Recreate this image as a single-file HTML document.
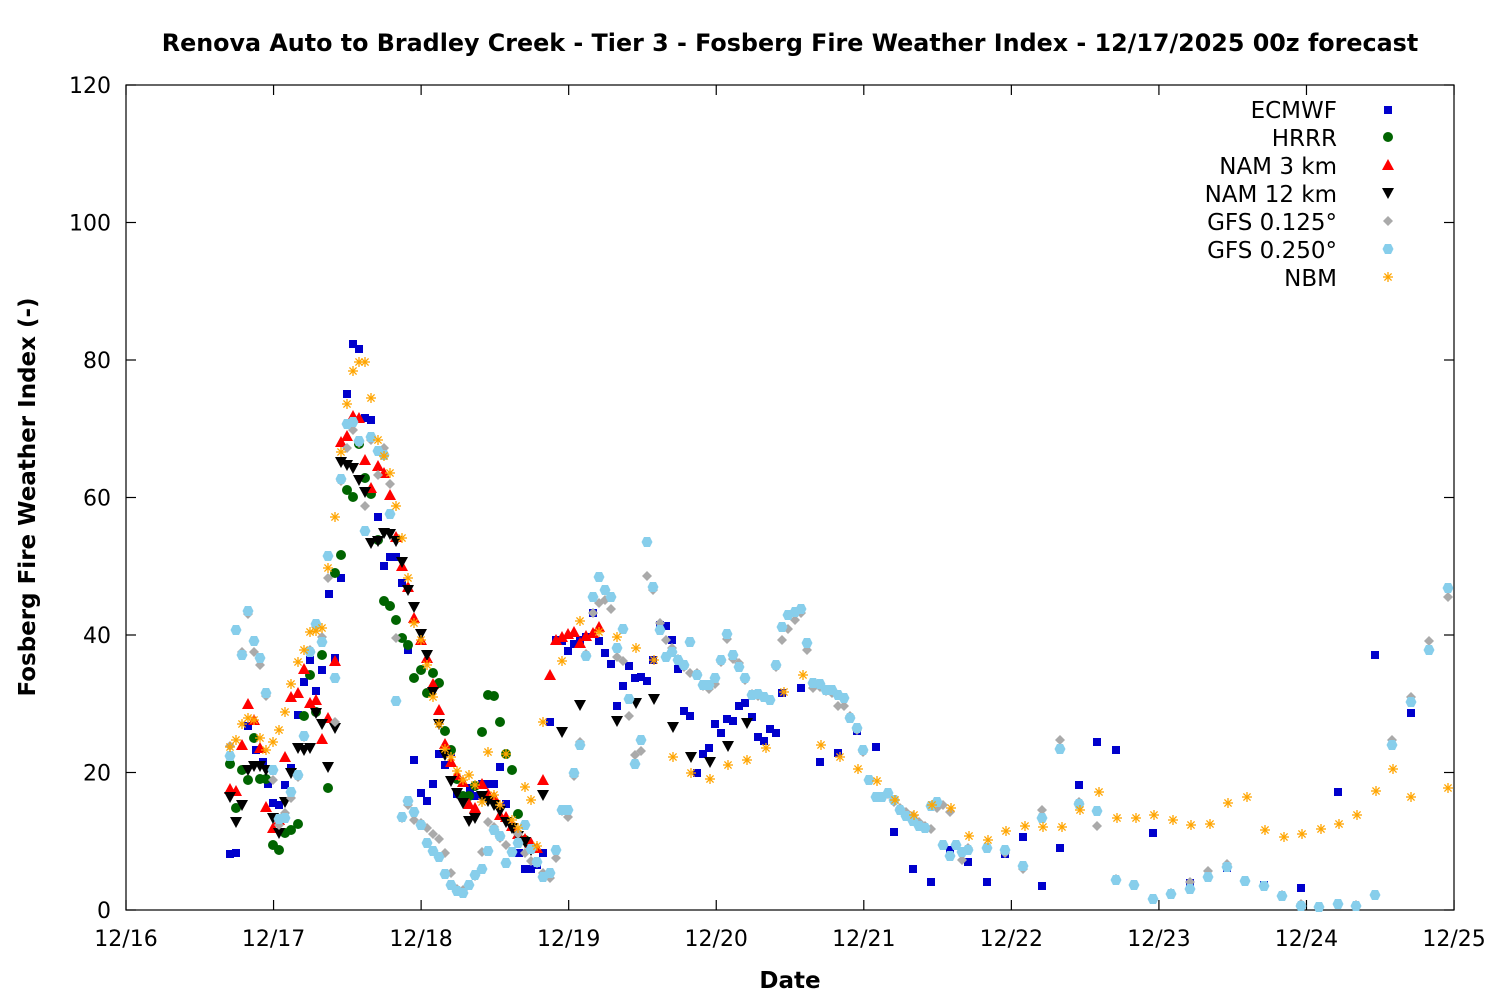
<!DOCTYPE html>
<html><head><meta charset="utf-8">
<style>
html,body{margin:0;padding:0;background:#fff;}
svg text{font-family:"DejaVu Sans","Liberation Sans",sans-serif;fill:#000;}
</style></head>
<body>
<svg id="c" width="1500" height="1000" xmlns="http://www.w3.org/2000/svg">
<rect width="1500" height="1000" fill="#fff"/>
<text x="790" y="51" font-size="23.8" font-weight="bold" text-anchor="middle">Renova Auto to Bradley Creek - Tier 3 - Fosberg Fire Weather Index - 12/17/2025 00z forecast</text>
<g id="axes" stroke="#000" stroke-width="1.2" fill="none">
<rect x="126" y="85" width="1328" height="825"/>
</g>
<g id="lab" font-size="22"></g>
<text transform="translate(35,497) rotate(-90)" font-size="23" font-weight="bold" text-anchor="middle">Fosberg Fire Weather Index (-)</text>
<text x="790" y="988" font-size="23" font-weight="bold" text-anchor="middle">Date</text>
<g font-size="23" text-anchor="end">
<text x="1337" y="118">ECMWF</text>
<text x="1337" y="146">HRRR</text>
<text x="1337" y="174">NAM 3 km</text>
<text x="1337" y="202">NAM 12 km</text>
<text x="1337" y="230">GFS 0.125°</text>
<text x="1337" y="258">GFS 0.250°</text>
<text x="1337" y="286">NBM</text>
</g>
<g id="pts"></g>
</svg>
<script>
var NS="http://www.w3.org/2000/svg";
function el(t,a,p){var e=document.createElementNS(NS,t);for(var k in a)e.setAttribute(k,a[k]);(p||document.getElementById('pts')).appendChild(e);return e;}
var ax=document.getElementById('axes'),lab=document.getElementById('lab');
for(var i=0;i<=6;i++){var y=910-i*137.5;
 el('line',{x1:126,x2:136,y1:y,y2:y},ax);el('line',{x1:1444,x2:1454,y1:y,y2:y},ax);
 var t=el('text',{x:111,y:y+8,'text-anchor':'end'},lab);t.textContent=i*20;}
var dl=['12/16','12/17','12/18','12/19','12/20','12/21','12/22','12/23','12/24','12/25'];
for(var i=0;i<=9;i++){var x=126+i*147.56;
 el('line',{x1:x,x2:x,y1:910,y2:900},ax);el('line',{x1:x,x2:x,y1:85,y2:95},ax);
 var t=el('text',{x:x,y:946,'text-anchor':'middle'},lab);t.textContent=dl[i];}
function P(s){var a=s.trim().split(/;\s*/),r=[];a.forEach(function(p){var q=p.split(',');r.push([+q[0],+q[1]]);});return r;}
function sq(x,y){el('rect',{x:x-4,y:y-4,width:8,height:8,fill:'#0000cc'});}
function ci(x,y){el('circle',{cx:x,cy:y,r:5,fill:'#006400'});}
function tu(x,y){el('polygon',{points:(x)+','+(y-6)+' '+(x-6)+','+(y+5)+' '+(x+6)+','+(y+5),fill:'#ff0000'});}
function td(x,y){el('polygon',{points:(x)+','+(y+6)+' '+(x-6)+','+(y-5)+' '+(x+6)+','+(y-5),fill:'#000'});}
function di(x,y){el('polygon',{points:x+','+(y-5)+' '+(x+5)+','+y+' '+x+','+(y+5)+' '+(x-5)+','+y,fill:'#aaaaaa'});}
function hx(x,y){el('polygon',{points:(x-3)+','+(y-5)+' '+(x+3)+','+(y-5)+' '+(x+5.5)+','+y+' '+(x+3)+','+(y+5)+' '+(x-3)+','+(y+5)+' '+(x-5.5)+','+y,fill:'#87ceeb'});}
function st(x,y){var g=el('g',{stroke:'#ffa500','stroke-width':1.3});
 el('line',{x1:x-5,y1:y,x2:x+5,y2:y},g);el('line',{x1:x,y1:y-5,x2:x,y2:y+5},g);
 el('line',{x1:x-3.6,y1:y-3.6,x2:x+3.6,y2:y+3.6},g);el('line',{x1:x-3.6,y1:y+3.6,x2:x+3.6,y2:y-3.6},g);}
var E=P("230,854;236,853;248,726;256,750;263,762;268,784;273,803;279,805;285,785;291,768;298,715;304,682;310,660;316,691;322,670;329,594;335,658;341,578;347,394;353,344;359,349;365,418;371,420;378,517;384,566;390,557;396,557;402,583;408,650;414,760;421,793;427,801;433,784;439,754;445,765;451,752;457,794;463,796;470,788;476,796;482,784;488,784;494,784;500,767;506,804;512,827;519,853;525,869;531,869;537,865;543,853;550,722;556,640;562,641;568,651;574,644;580,640;586,637;593,613;599,641;605,653;611,664;617,706;623,686;629,666;635,678;641,677;647,681;653,660;660,625;666,626;672,640;678,669;684,711;690,716;697,773;703,754;709,748;715,724;721,733;727,719;733,721;739,706;745,703;752,717;758,737;764,741;770,729;776,733;782,693;801,688;820,762;838,753;857,731;876,747;894,832;913,869;931,882;950,850;968,862;987,882;1005,854;1023,837;1042,886;1060,848;1079,785;1097,742;1116,750;1153,833;1190,883;1227,868;1264,885;1301,888;1338,792;1375,655;1411,713");
var H=P("230,764;236,808;242,770;248,780;254,738;260,779;266,779;273,845;279,850;285,833;291,830;298,824;304,716;310,675;316,712;322,655;328,788;335,573;341,555;347,490;353,497;359,444;365,478;371,494;378,540;384,601;390,606;396,620;402,638;408,645;414,678;421,670;427,693;433,673;439,683;445,731;451,750;457,779;463,796;469,796;475,786;482,732;488,695;494,696;500,722;506,754;512,770;518,814;525,840");
var N3=P("230,789;236,791;242,745;248,704;254,720;260,748;266,807;273,828;279,820;285,757;291,697;298,693;304,669;310,703;316,700;322,739;328,718;335,661;341,442;347,436;353,416;359,418;365,460;371,488;378,466;384,473;390,495;396,537;402,566;408,587;414,618;421,640;427,658;433,684;439,710;445,744;451,762;457,775;463,782;469,804;475,808;482,784;488,794;494,797;500,815;506,817;512,826;518,834;525,839;531,843;537,848;543,780;550,675;556,640;562,637;568,634;574,632;580,643;586,636;593,633;599,627");
var N12=P("230,797;236,822;242,805;248,770;254,766;260,766;266,770;273,818;279,833;285,802;291,773;298,748;304,750;310,748;316,713;322,724;328,767;335,728;341,462;347,465;353,468;359,480;365,492;371,543;378,541;384,533;390,534;396,541;402,562;408,590;414,607;421,634;427,655;433,692;439,724;445,755;451,781;457,793;463,803;469,821;475,818;482,796;488,801;494,805;500,811;506,822;512,828;518,836;525,842;531,850;543,795;562,732;580,705;617,721;636,703;654,699;673,727;691,757;710,762;728,746;747,723");
var G1=P("230,746;236,630;242,652;248,614;254,652;260,665;266,696;273,780;279,825;285,813;291,798;298,777;304,737;310,650;316,627;322,637;328,578;335,722;341,481;347,448;353,430;359,443;365,506;371,440;378,475;384,448;390,484;396,638;402,818;408,805;414,820;421,823;427,828;433,834;439,839;445,853;451,873;457,889;463,890;469,885;475,876;482,852;488,822;494,827;500,838;506,845;512,852;518,834;525,853;531,861;537,863;543,873;550,878;556,858;562,811;568,817;574,776;580,742;586,654;593,613;599,603;605,600;611,609;617,657;623,661;629,716;635,755;641,751;647,576;653,590;660,623;666,640;672,648;678,659;684,667;690,673;697,673;703,686;709,689;715,684;721,662;727,639;733,659;739,663;745,680;752,694;758,696;764,697;770,700;776,667;782,640;788,629;795,620;801,613;807,650;813,688;820,687;826,691;832,693;838,706;844,706;850,716;857,730;863,752;869,780;876,797;882,797;888,794;894,802;900,808;906,812;913,816;919,822;925,826;931,829;937,808;943,805;950,812;956,845;962,860;968,848;987,848;1005,853;1023,869;1042,810;1060,740;1079,802;1097,826;1116,879;1134,885;1153,899;1171,893;1190,882;1208,871;1227,864;1245,881;1264,886;1282,895;1301,904;1319,907;1338,904;1356,905;1375,895;1392,740;1411,697;1429,641;1448,597");
var G2=P("230,756;236,630;242,655;248,611;254,641;260,658;266,693;273,770;279,819;285,818;291,792;298,775;304,736;310,652;316,624;322,642;328,556;335,678;341,479;347,424;353,422;359,441;365,531;371,437;378,451;384,455;390,514;396,701;402,817;408,801;414,812;421,825;427,843;433,851;439,857;445,874;451,885;457,891;463,893;469,885;475,875;482,869;488,851;494,830;500,836;506,863;512,852;518,843;525,825;531,849;537,862;543,877;550,873;556,850;562,810;568,810;574,773;580,745;586,656;593,597;599,577;605,590;611,597;617,648;623,629;629,699;635,764;641,740;647,542;653,587;660,630;666,657;672,652;678,660;684,665;690,642;697,675;703,685;709,685;715,678;721,660;727,634;733,655;739,667;745,678;752,695;758,694;764,697;770,700;776,665;782,627;788,615;795,612;801,609;807,643;813,683;820,684;826,690;832,690;838,695;844,698;850,718;857,728;863,750;869,780;876,797;882,797;888,793;894,800;900,810;906,816;913,821;919,826;925,828;931,806;937,802;943,845;950,856;956,845;962,852;968,850;987,848;1005,850;1023,866;1042,818;1060,749;1079,804;1097,811;1116,880;1134,885;1153,899;1171,894;1190,889;1208,877;1227,867;1245,881;1264,886;1282,896;1301,906;1319,907;1338,904;1356,906;1375,895;1392,745;1411,702;1429,650;1448,588");
var NB=P("230,747;236,740;242,724;248,718;254,720;260,738;266,750;273,742;279,730;285,712;291,684;298,662;304,650;310,632;316,631;322,628;328,568;335,517;341,452;347,404;353,371;359,362;365,362;371,398;378,440;384,456;390,473;396,506;402,538;408,578;414,623;421,640;427,665;433,697;439,724;445,749;451,757;457,771;463,780;469,775;475,785;482,802;488,752;494,795;500,805;506,754;512,820;518,828;525,787;531,800;537,846;543,722;562,661;580,621;599,632;617,637;636,648;654,660;673,757;691,773;710,779;728,765;747,760;766,748;784,692;803,675;821,745;840,757;858,769;877,781;895,800;914,815;932,805;951,808;969,836;988,840;1006,831;1025,826;1043,827;1062,827;1080,810;1099,792;1117,818;1136,818;1154,815;1173,820;1191,825;1210,824;1228,803;1247,797;1265,830;1284,837;1302,834;1321,829;1339,824;1357,815;1376,791;1393,769;1411,797;1448,788");
E.forEach(function(p){sq(p[0],p[1]);});
H.forEach(function(p){ci(p[0],p[1]);});
N3.forEach(function(p){tu(p[0],p[1]);});
N12.forEach(function(p){td(p[0],p[1]);});
G1.forEach(function(p){di(p[0],p[1]);});
G2.forEach(function(p){hx(p[0],p[1]);});
NB.forEach(function(p){st(p[0],p[1]);});
sq(1388,110);ci(1388,137);tu(1388,165);td(1388,193);di(1388,221);hx(1388,249);st(1388,277);
</script>
</body></html>
